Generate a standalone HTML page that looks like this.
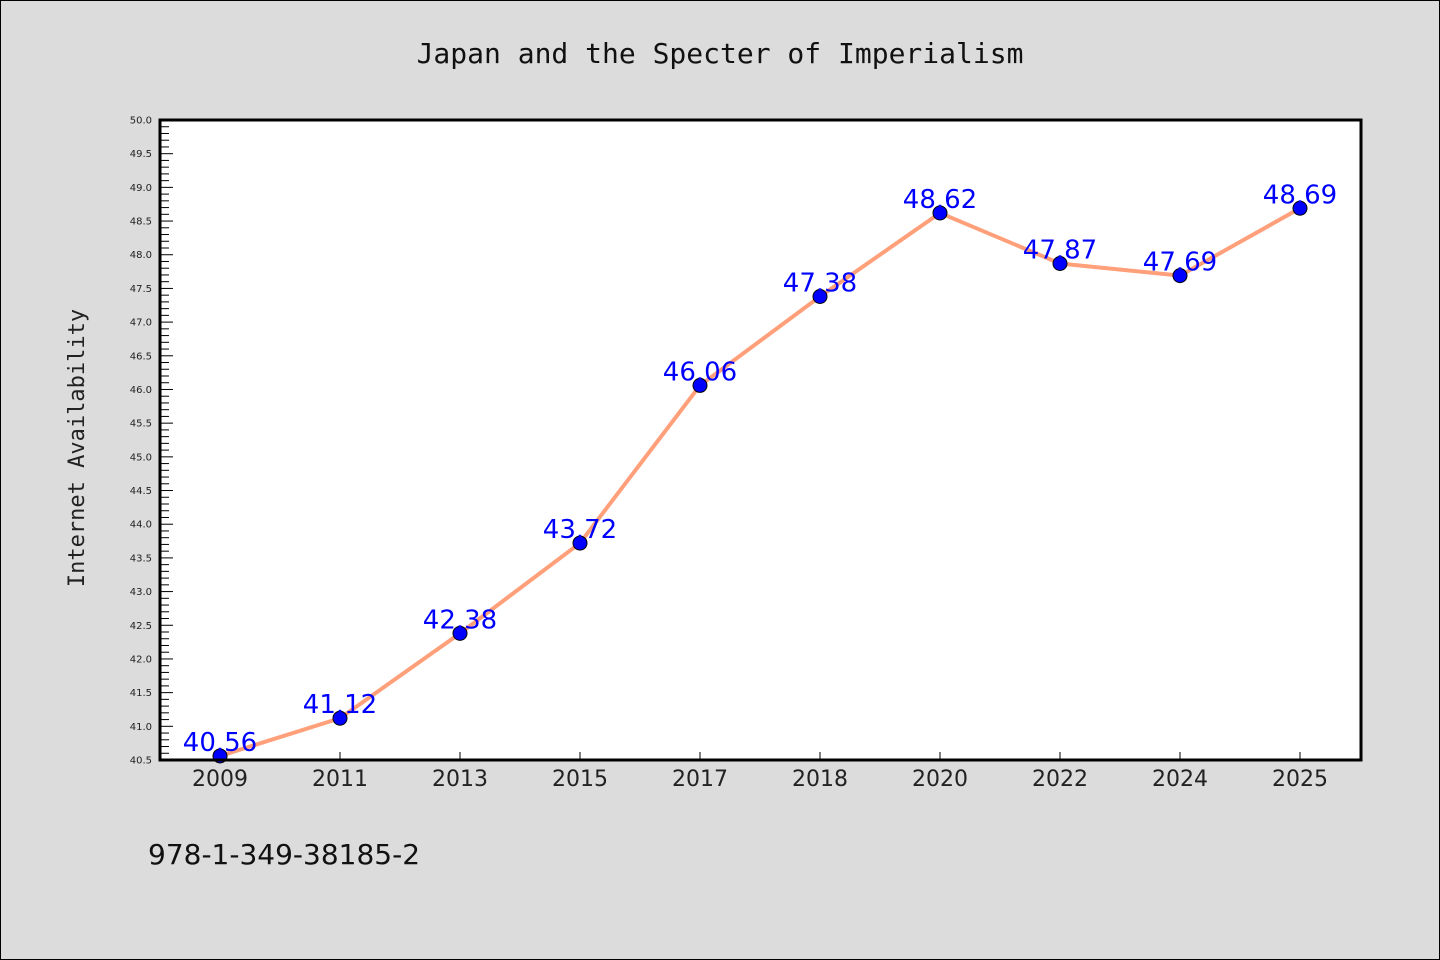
<!DOCTYPE html>
<html><head><meta charset="utf-8"><style>
body{margin:0;background:#dcdcdc;}
svg{display:block;font-family:"DejaVu Sans","Liberation Sans",sans-serif;}
</style></head><body>
<svg width="1440" height="960">
<rect x="0.5" y="0.5" width="1439" height="959" fill="#dcdcdc" stroke="#000"/>
<text x="720" y="63" text-anchor="middle" font-family="DejaVu Sans Mono, Liberation Mono, monospace" font-size="28" fill="#111">Japan and the Specter of Imperialism</text>
<text transform="translate(84,448) rotate(-90)" text-anchor="middle" font-family="DejaVu Sans Mono, Liberation Mono, monospace" font-size="22" fill="#222">Internet Availability</text>
<text x="148" y="864" font-size="28" fill="#111">978-1-349-38185-2</text>
<rect x="160" y="120" width="1201" height="640" fill="#fff"/>
<g id="axes"></g>
<g id="marks"></g>
<rect x="160" y="120" width="1201" height="640" fill="none" stroke="#000" stroke-width="3"/>
</svg>
<script>
const categories=["2009","2011","2013","2015","2017","2018","2020","2022","2024","2025"];
const values=[40.56,41.12,42.38,43.72,46.06,47.38,48.62,47.87,47.69,48.69];
const valueLabels=["40.56","41.12","42.38","43.72","46.06","47.38","48.62","47.87","47.69","48.69"];
const yMin=40.5,yMax=50.0;
const NS="http://www.w3.org/2000/svg";
function x(i){return 220+i*120;}
function y(v){return 760-(v-yMin)/(yMax-yMin)*640;}
function mk(t,a,p){const e=document.createElementNS(NS,t);for(const k in a)e.setAttribute(k,a[k]);p.appendChild(e);return e;}
const ax=document.getElementById('axes'),mg=document.getElementById('marks');
for(let k=0;k<=95;k++){
 const v=yMin+k*0.1,yy=y(v),major=k%5===0;
 const l=mk('line',{x1:160,x2:major?173:169,y1:yy,y2:yy,stroke:'#000','stroke-width':1},ax);
 
 
 if(major){const t=mk('text',{x:152,y:yy+3.5,'text-anchor':'end','font-size':10,fill:'#222'},ax);t.textContent=v.toFixed(1);
 
 }
}
categories.forEach((c,i)=>{
 const l=mk('line',{x1:x(i),x2:x(i),y1:760,y2:752,stroke:'#000','stroke-width':1},ax);
 
 
 const t=mk('text',{x:x(i),y:786,'text-anchor':'middle','font-size':22,fill:'#222'},ax);t.textContent=c;
 
 
});
const pl=mk('polyline',{points:values.map((v,i)=>x(i)+','+y(v)).join(' '),fill:'none',stroke:'#ffa07a','stroke-width':4},mg);


values.forEach((v,i)=>{
 const c=mk('circle',{cx:x(i),cy:y(v),r:7,fill:'#0000ff',stroke:'#000','stroke-width':1},mg);
 
 
 const t=mk('text',{x:x(i),y:y(v)-5,'text-anchor':'middle','font-size':26,fill:'#0000ff'},mg);t.textContent=valueLabels[i];
 
 
});
</script>
</body></html>
